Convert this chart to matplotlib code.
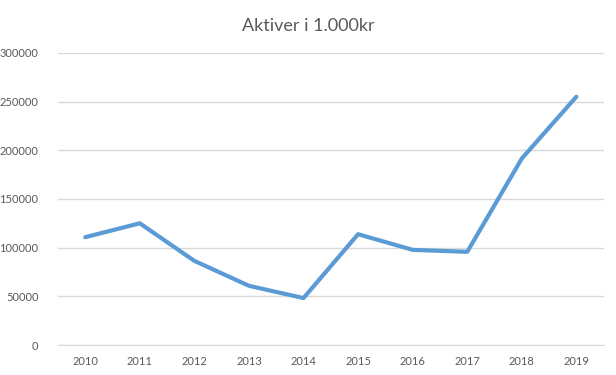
import matplotlib.pyplot as plt

# Data
years = ["2010", "2011", "2012", "2013", "2014", "2015", "2016", "2017", "2018", "2019"]
aktiver = [110700, 125000, 86400, 60800, 48200, 113800, 97700, 95700, 191500, 255000]

plt.rcParams['font.family'] = ['Lato', 'DejaVu Sans']

fig = plt.figure(figsize=(6.16, 3.75), dpi=100)
ax = fig.add_axes([0.094, 0.08, 0.886, 0.779])

x = list(range(len(years)))
ax.plot(x, aktiver, color='#5B9BD5', linewidth=3.0, solid_capstyle='round', solid_joinstyle='round', zorder=3)

ax.set_xlim(-0.5, len(years) - 0.5)
ax.set_ylim(0, 300000)
ax.set_yticks(range(0, 300001, 50000))
ax.set_xticks(x)
ax.set_xticklabels(years)

ax.grid(axis='y', color='#D9D9D9', linewidth=1.0)
ax.set_axisbelow(True)
for side in ['top', 'right', 'left']:
    ax.spines[side].set_visible(False)
ax.spines['bottom'].set_color('#D9D9D9')
ax.tick_params(axis='both', length=0, labelsize=8, colors='#595959', pad=8)
ax.tick_params(axis='y', pad=14)

fig.text(0.5, 0.93, "Aktiver i 1.000kr", ha='center', va='center', fontsize=13, color='#595959')

fig.savefig("out.png", dpi=100)
